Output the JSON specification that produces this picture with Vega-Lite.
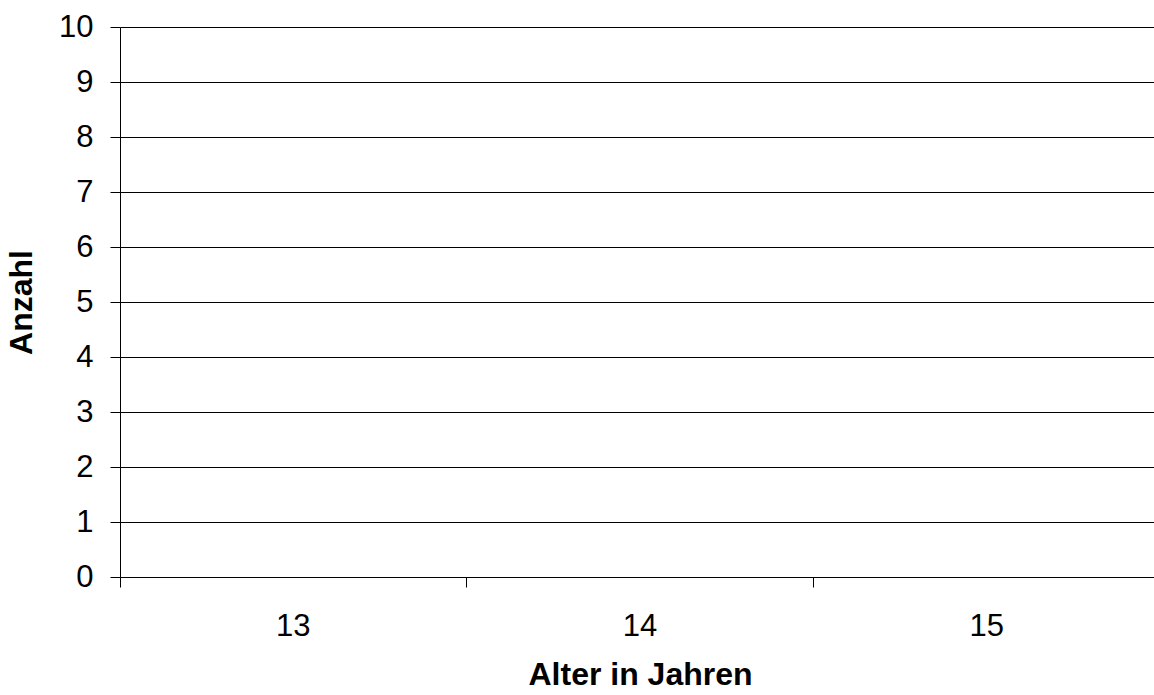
{
  "$schema": "https://vega.github.io/schema/vega-lite/v6.json",
  "autosize": "none",
  "padding": {"left": 120, "top": 27, "right": 0, "bottom": 118},
  "width": 1034,
  "height": 550,
  "background": "white",
  "config": {
    "view": {"stroke": null},
    "font": "Liberation Sans",
    "axis": {"labelFont": "Liberation Sans", "titleFont": "Liberation Sans", "labelColor": "#000", "titleColor": "#000", "domainColor": "#000", "tickColor": "#000", "domainWidth": 1, "tickWidth": 1}
  },
  "data": {"values": [
    {"Alter": "13", "Anzahl": 0},
    {"Alter": "14", "Anzahl": 0},
    {"Alter": "15", "Anzahl": 0}
  ]},
  "mark": {"type": "bar", "color": "#9999ff"},
  "encoding": {
    "x": {
      "field": "Alter", "type": "ordinal",
      "scale": {"paddingInner": 0, "paddingOuter": 0, "range": [0, 1040]},
      "axis": {"title": "Alter in Jahren", "labelAngle": 0, "labelFontSize": 31, "titleFontSize": 32, "titleFontWeight": "bold", "tickSize": 10, "bandPosition": 0, "labelPadding": 24, "titlePadding": 18, "grid": false, "titleX": 520}
    },
    "y": {
      "field": "Anzahl", "type": "quantitative",
      "scale": {"domain": [0, 10], "nice": false},
      "axis": {"title": "Anzahl", "values": [0,1,2,3,4,5,6,7,8,9,10], "labelFontSize": 31, "titleFontSize": 32, "titleFontWeight": "bold", "tickSize": 10, "labelPadding": 17, "titlePadding": 20, "grid": true, "gridColor": "#000", "gridWidth": 1, "gridOpacity": 1}
    }
  }
}
